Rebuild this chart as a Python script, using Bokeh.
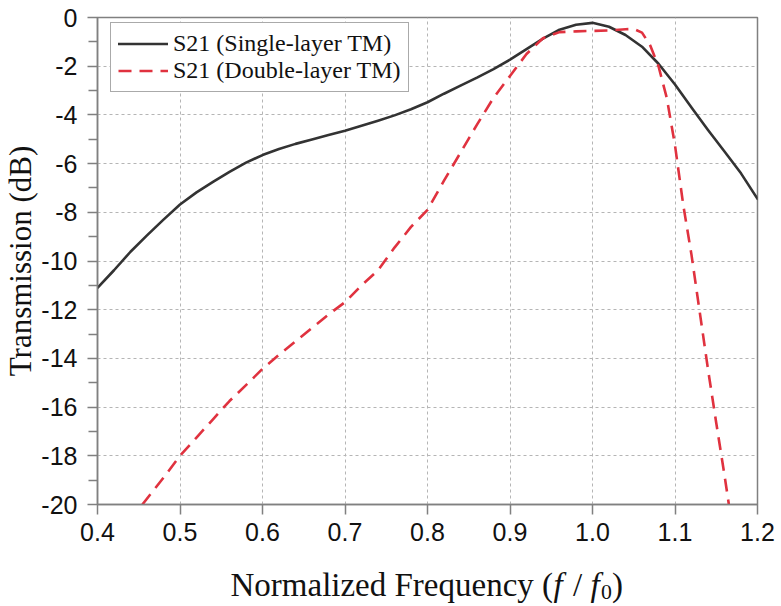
from bokeh.core.properties import value
from bokeh.embed import file_html
from bokeh.layouts import column
from bokeh.models import (FixedTicker, Legend, LegendItem,
                          NumeralTickFormatter, Range1d)
from bokeh.plotting import figure
from bokeh.resources import INLINE

# Normalized frequency (f / f0) and S21 transmission in dB, single-layer TM
freq_single = [0.40, 0.42, 0.44, 0.46, 0.48, 0.50, 0.52, 0.54, 0.56, 0.58,
               0.60, 0.62, 0.64, 0.66, 0.68, 0.70, 0.72, 0.74, 0.76, 0.78,
               0.80, 0.82, 0.84, 0.86, 0.88, 0.90, 0.92, 0.94, 0.96, 0.98,
               1.00, 1.02, 1.04, 1.06, 1.08, 1.10, 1.12, 1.14, 1.16, 1.18,
               1.20]
s21_single = [-11.10, -10.38, -9.62, -8.95, -8.30, -7.68, -7.18, -6.75, -6.34, -5.96,
              -5.65, -5.40, -5.19, -5.01, -4.83, -4.65, -4.45, -4.24, -4.02, -3.77,
              -3.48, -3.13, -2.80, -2.47, -2.12, -1.73, -1.30, -0.87, -0.50, -0.30,
              -0.22, -0.38, -0.72, -1.20, -1.90, -2.75, -3.70, -4.62, -5.50, -6.40,
              -7.45]

# Double-layer TM
freq_double = [0.4544, 0.48, 0.50, 0.52, 0.54, 0.56, 0.58, 0.60, 0.62, 0.64,
               0.66, 0.68, 0.70, 0.72, 0.74, 0.76, 0.78, 0.80, 0.82, 0.84,
               0.86, 0.88, 0.90, 0.92, 0.94, 0.96, 0.98, 1.00, 1.02, 1.04,
               1.05, 1.06, 1.07, 1.08, 1.09, 1.10, 1.11, 1.12, 1.13, 1.14,
               1.15, 1.16, 1.1653]
s21_double = [-20.00, -18.90, -18.00, -17.25, -16.50, -15.75, -15.10, -14.43, -13.85, -13.30,
              -12.75, -12.20, -11.69, -11.00, -10.38, -9.45, -8.60, -7.90, -6.70, -5.55,
              -4.40, -3.30, -2.40, -1.50, -0.85, -0.60, -0.57, -0.55, -0.53, -0.48,
              -0.47, -0.62, -1.15, -2.00, -3.30, -5.25, -7.70, -9.75, -12.10, -14.45,
              -16.65, -18.80, -20.00]

x_ticks = [0.4, 0.5, 0.6, 0.7, 0.8, 0.9, 1.0, 1.1, 1.2]
y_ticks = [0, -2, -4, -6, -8, -10, -12, -14, -16, -18, -20]
y_tick_labels = ["0", "-2", "-4", "-6", "-8", "-10", "-12", "-14", "-16", "-18", "-20"]
y_minor_ticks = [-1, -3, -5, -7, -9, -11, -13, -15, -17, -19]

series_labels = ["S21 (Single-layer TM)", "S21 (Double-layer TM)"]
x_title_parts = ["Normalized Frequency (", "f", "/", "f", "0", ")"]
y_title = "Transmission (dB)"

AXIS_GRAY = "#808080"
TEXT = "#111111"
SERIF = "Liberation Serif"
SANS = "Liberation Sans"

TOTAL_W, TOTAL_H = 781, 606
XTITLE_H = 46          # strip holding the horizontal axis title
PLOT_H = TOTAL_H - XTITLE_H
FRAME_LEFT, FRAME_RIGHT, FRAME_TOP, FRAME_BOTTOM = 95, 757, 17, 504

p = figure(width=TOTAL_W, height=PLOT_H, output_backend="svg", toolbar_location=None,
           title=None, frame_align=False,
           x_range=Range1d(0.4, 1.2), y_range=Range1d(-20, 0),
           min_border_left=FRAME_LEFT,
           min_border_right=TOTAL_W - FRAME_RIGHT,
           min_border_top=FRAME_TOP,
           min_border_bottom=PLOT_H - FRAME_BOTTOM)
p.background_fill_color = "white"
p.border_fill_color = "white"
p.outline_line_color = AXIS_GRAY
p.outline_line_width = 1.5

# axes
p.xaxis.ticker = FixedTicker(ticks=x_ticks)
p.xaxis.formatter = NumeralTickFormatter(format="0.0")
p.yaxis.ticker = FixedTicker(ticks=y_ticks, minor_ticks=y_minor_ticks)
p.yaxis.major_label_overrides = dict(zip(y_ticks, y_tick_labels))
for ax in (p.xaxis[0], p.yaxis[0]):
    ax.axis_line_color = AXIS_GRAY
    ax.axis_line_width = 1.5
    ax.major_tick_line_color = AXIS_GRAY
    ax.major_tick_line_width = 1.5
    ax.major_tick_in = 0
    ax.major_tick_out = 10
    ax.minor_tick_line_color = AXIS_GRAY
    ax.minor_tick_line_width = 1.5
    ax.minor_tick_in = 0
    ax.minor_tick_out = 9
    ax.major_label_text_font = SANS
    ax.major_label_text_font_size = "25px"
    ax.major_label_text_color = TEXT
p.xaxis.major_label_standoff = 8
p.yaxis.major_label_standoff = 10

# vertical title drawn by the axis itself
p.yaxis.axis_label = y_title
p.yaxis.axis_label_text_font = SERIF
p.yaxis.axis_label_text_font_size = "31px"
p.yaxis.axis_label_text_font_style = "normal"
p.yaxis.axis_label_text_color = TEXT
p.yaxis.axis_label_standoff = 0

# dotted grid
p.xgrid.ticker = FixedTicker(ticks=x_ticks)
p.ygrid.ticker = FixedTicker(ticks=y_ticks)
for g in (p.xgrid[0], p.ygrid[0]):
    g.grid_line_color = "#b5b5b5"
    g.grid_line_width = 1
    g.grid_line_dash = "3 3"

r_single = p.line(freq_single, s21_single, line_color="#333333", line_width=2.6,
                  line_join="round", line_cap="round")
r_double = p.line(freq_double, s21_double, line_color="#e0323f", line_width=2.6,
                  line_dash="13 8", line_join="round")

legend = Legend(items=[LegendItem(label=series_labels[0], renderers=[r_single]),
                       LegendItem(label=series_labels[1], renderers=[r_double])],
                location=(13, 412))
legend.label_text_font = SERIF
legend.label_text_font_size = "24px"
legend.label_text_color = TEXT
legend.label_height = 27
legend.label_standoff = 5
legend.glyph_width = 50
legend.glyph_height = 27
legend.spacing = 0
legend.padding = 7
legend.margin = 0
legend.border_line_color = "#555555"
legend.border_line_width = 1
legend.background_fill_color = "white"
legend.background_fill_alpha = 1
p.add_layout(legend)

# horizontal title on a blank strip whose data units are pixels,
# so that f can be italic and 0 a subscript
xtitle = figure(width=TOTAL_W, height=XTITLE_H, output_backend="svg",
                toolbar_location=None, title=None, frame_align=False,
                x_range=Range1d(0, TOTAL_W), y_range=Range1d(0, XTITLE_H),
                min_border=0)
xtitle.axis.visible = False
xtitle.grid.visible = False
xtitle.outline_line_color = None
xtitle.background_fill_color = "white"
xtitle.border_fill_color = "white"

fs = 33.0
sub = round(fs * 0.66, 1)
advance = [9.775 * fs + 0.5,            # "Normalized Frequency ("
           0.278 * fs + 0.25 * fs + 2,  # italic f and a space
           0.278 * fs + 0.25 * fs,      # slash and a space
           0.278 * fs + 1.5,            # italic f
           0.5 * sub,                   # subscript 0
           0.333 * fs]                  # ")"
styles = ["normal", "italic", "normal", "italic", "normal", "normal"]
sizes = [fs, fs, fs, fs, sub, fs]
lifts = [0, 0, 0, 0, -7, 0]
baseline = 22
xs, ys = [], []
cursor = 230.0
for w, dy in zip(advance, lifts):
    xs.append(cursor)
    ys.append(baseline + dy)
    cursor += w
for part, x0, y0, st, sz in zip(x_title_parts, xs, ys, styles, sizes):
    xtitle.text(x=[x0], y=[y0], text=[part], text_align="left",
                text_baseline="alphabetic", text_font=value(SERIF),
                text_font_style=st, text_font_size=f"{sz}px", text_color=TEXT)

layout = column(p, xtitle, spacing=0)

open("out.html", "w").write(file_html(layout, INLINE))
